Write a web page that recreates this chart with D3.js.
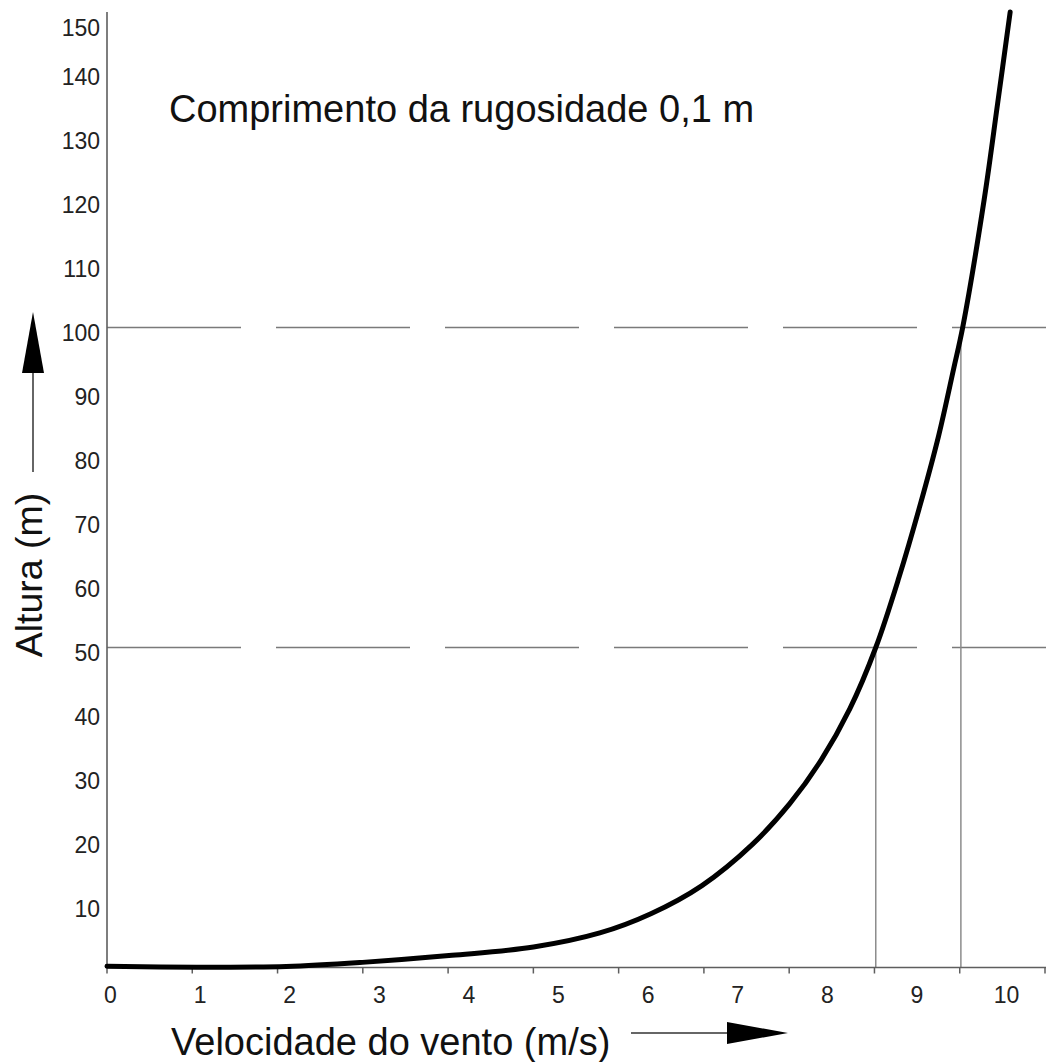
<!DOCTYPE html>
<html lang="pt">
<head>
<meta charset="utf-8">
<script src="https://cdn.jsdelivr.net/npm/d3@7"></script>
<style>
  html, body { margin: 0; padding: 0; background: #fff; }
  svg { display: block; font-family: "Liberation Sans", Arial, sans-serif; }
</style>
</head>
<body>
<svg id="chart" width="1046" height="1062"></svg>
<script>
// Wind speed profile over terrain with 0.1 m roughness length
const speeds  = [0, 1.0, 2.0, 2.85, 3.85, 4.76, 5.50, 6.07, 6.64, 7.20, 7.62, 7.97, 8.29, 8.58, 8.84, 9.07, 9.28, 9.45, 9.55, 9.79, 9.94, 10.08];
const heights = [0.2, 0.05, 0.15, 0.8, 1.9, 3.2, 5.4, 8.4, 12.8, 19.2, 25.6, 32.4, 40.4, 50, 61.0, 72.0, 83.0, 93.6, 100, 120, 135.0, 149.3];

// reference heights and the speeds read at them
const refHeights = [50, 100];
const refSpeeds  = [8.58, 9.53];

const xTickLabels = [0, 1, 2, 3, 4, 5, 6, 7, 8, 9, 10];
const yTickLabels = [10, 20, 30, 40, 50, 60, 70, 80, 90, 100, 110, 120, 130, 140, 150];
const xTickMarks  = [0, 1, 2, 3, 4, 5, 6, 7, 8, 9, 10, 11];

const titleText  = "Comprimento da rugosidade 0,1 m";
const xAxisTitle = "Velocidade do vento (m/s)";
const yAxisTitle = "Altura (m)";

const svg = d3.select("#chart");

const originX = 107, originY = 967.5;
const x = d3.scaleLinear().domain([0, 10]).range([originX, 1003]);
const y = d3.scaleLinear().domain([0, 150]).range([originY, 7.5]);
// secondary scale for the evenly spaced tick marks on the speed axis
const xMarks = d3.scaleLinear().domain([0, 11]).range([originX, 1045]);

const axisColor = "#5e5e5e";
const labelColor = "#222";

// dashed horizontal reference lines
svg.append("g")
  .selectAll("line")
  .data(refHeights)
  .join("line")
  .attr("x1", originX).attr("x2", 1046)
  .attr("y1", d => y(d)).attr("y2", d => y(d))
  .attr("stroke", "#7a7a7a")
  .attr("stroke-width", 1.6)
  .attr("stroke-dasharray", "134,35");

// vertical drop lines from the curve to the speed axis
svg.append("g")
  .selectAll("line")
  .data(refHeights.map((h, i) => ({ h, v: refSpeeds[i] })))
  .join("line")
  .attr("x1", d => x(d.v)).attr("x2", d => x(d.v))
  .attr("y1", d => y(d.h)).attr("y2", y(0))
  .attr("stroke", "#8c8c8c")
  .attr("stroke-width", 1.5);

// speed axis: line, tick marks, labels
const xAxisG = svg.append("g").attr("transform", `translate(0,${originY})`);
xAxisG.append("line")
  .attr("x1", originX).attr("x2", 1046)
  .attr("y1", 0).attr("y2", 0)
  .attr("stroke", axisColor).attr("stroke-width", 1.6);
xAxisG.append("g")
  .selectAll("line")
  .data(xTickMarks)
  .join("line")
  .attr("x1", d => xMarks(d)).attr("x2", d => xMarks(d))
  .attr("y1", 0).attr("y2", 6)
  .attr("stroke", axisColor).attr("stroke-width", 1.5);
const xAxis = d3.axisBottom(x).tickValues(xTickLabels).tickSize(0).tickPadding(19).tickFormat(d3.format("d"));
const xLab = svg.append("g").attr("transform", `translate(3,${originY})`).call(xAxis);
xLab.select(".domain").remove();
xLab.selectAll("text")
  .attr("font-size", 23)
  .attr("font-family", "Liberation Sans, Arial, sans-serif")
  .attr("fill", labelColor);

// height axis: line and labels
svg.append("line")
  .attr("x1", originX).attr("x2", originX)
  .attr("y1", 12).attr("y2", originY)
  .attr("stroke", axisColor).attr("stroke-width", 1.6);
const yAxis = d3.axisLeft(y).tickValues(yTickLabels).tickSize(0).tickPadding(7).tickFormat(d3.format("d"));
const yLab = svg.append("g").attr("transform", `translate(${originX},0)`).call(yAxis);
yLab.select(".domain").remove();
yLab.selectAll("text")
  .attr("font-size", 23)
  .attr("font-family", "Liberation Sans, Arial, sans-serif")
  .attr("fill", labelColor)
  .attr("dy", "0.55em");
// keep the topmost label clear of the top edge
yLab.selectAll(".tick")
  .filter(d => d === d3.max(yTickLabels))
  .select("text")
  .attr("dy", "1.2em");

// the profile curve
const line = d3.line()
  .x((d, i) => x(speeds[i]))
  .y((d, i) => y(heights[i]))
  .curve(d3.curveCatmullRom.alpha(0.5));
svg.append("path")
  .datum(speeds)
  .attr("d", line)
  .attr("fill", "none")
  .attr("stroke", "#000")
  .attr("stroke-width", 5)
  .attr("stroke-linecap", "round")
  .attr("stroke-linejoin", "round");

// title inside the plot
svg.append("text")
  .attr("x", 169).attr("y", 122)
  .attr("font-size", 38)
  .attr("fill", "#111")
  .text(titleText);

// speed axis title with arrow
svg.append("text")
  .attr("x", 171).attr("y", 1055)
  .attr("font-size", 38)
  .attr("fill", "#111")
  .text(xAxisTitle);
svg.append("line")
  .attr("x1", 631).attr("x2", 730)
  .attr("y1", 1033).attr("y2", 1033)
  .attr("stroke", "#333").attr("stroke-width", 1.5);
svg.append("path")
  .attr("d", d3.line()([[727, 1022], [788, 1033], [727, 1044]]) + "Z")
  .attr("fill", "#000");

// height axis title with arrow
svg.append("text")
  .attr("transform", "translate(42,575) rotate(-90)")
  .attr("text-anchor", "middle")
  .attr("font-size", 37.5)
  .attr("fill", "#111")
  .text(yAxisTitle);
svg.append("line")
  .attr("x1", 33).attr("x2", 33)
  .attr("y1", 472).attr("y2", 370)
  .attr("stroke", "#333").attr("stroke-width", 1.5);
svg.append("path")
  .attr("d", d3.line()([[22, 373], [33, 312], [44, 373]]) + "Z")
  .attr("fill", "#000");
</script>
</body>
</html>
